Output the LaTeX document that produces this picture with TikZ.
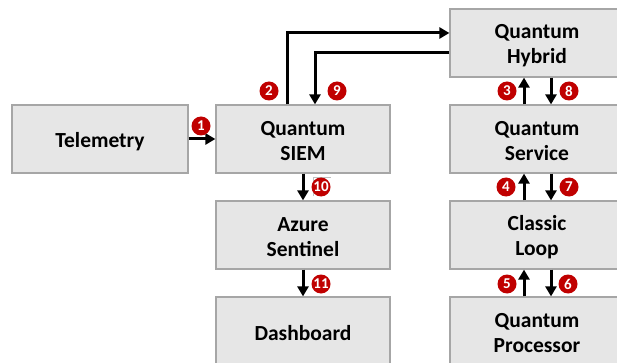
\documentclass[tikz,border=0pt]{standalone}
\usepackage{fontspec}
\setmainfont{Carlito}
\usetikzlibrary{arrows.meta}
\definecolor{boxfill}{HTML}{E6E6E6}
\definecolor{boxline}{HTML}{A6A6A6}
\definecolor{badge}{HTML}{C00000}
\tikzset{
  block/.style={draw=boxline, line width=1.2pt, fill=boxfill, minimum width=174pt,
    minimum height=68pt, inner sep=0pt},
  btext/.style={align=center, inner sep=0pt, yshift=-2.5pt,
    font=\fontsize{21.5}{25}\selectfont\bfseries},
  flow/.style={line width=3pt, -{Triangle[length=10pt,width=11pt]}},
  num/.style={circle, fill=badge, text=white, inner sep=0pt, minimum size=19pt,
    font=\fontsize{15}{15}\selectfont\bfseries}
}
\begin{document}
\begin{tikzpicture}[x=1pt,y=-1pt]
\useasboundingbox (0,0) rectangle (617,363);
\clip (0,0) rectangle (617,363);
\fill[white] (0,0) rectangle (617,363);

% boxes, each with its caption centred inside
\node[block, minimum width=176pt, label={[btext]center:Telemetry}] (tel) at (100,139) {};
\node[block, label={[btext]center:Quantum\\SIEM}] (siem) at (303,139) {};
\node[block, label={[btext]center:Azure\\Sentinel}] (sent) at (303,235) {};
\node[block, label={[btext]center:Dashboard}] (dash) at (303,331) {};
\node[block, label={[btext]center:Quantum\\Hybrid}] (hyb) at (537,43) {};
\node[block, label={[btext]center:Quantum\\Service}] (svc) at (537,139) {};
\node[block, label={[btext]center:Classic\\Loop}] (loop) at (537,235) {};
\node[block, label={[btext]center:Quantum\\Processor}] (proc) at (537,331) {};

% connector end points
\coordinate (s2) at ([xshift=-16pt]siem.north);
\coordinate (s9) at ([xshift=12pt]siem.north);
\coordinate (h2) at ([yshift=10pt]hyb.west);
\coordinate (h9) at ([yshift=-10pt]hyb.west);

% connectors
\draw[flow] (tel.east) -- (siem.west);
\draw[flow] (s2) |- (h2);
\draw[flow] (h9) -| (s9);
\draw[flow] (siem.south) -- (sent.north);
\draw[flow] (sent.south) -- (dash.north);
\draw[flow] ([xshift=-13pt]svc.north) -- ([xshift=-13pt]hyb.south);
\draw[flow] ([xshift=14pt]hyb.south) -- ([xshift=14pt]svc.north);
\draw[flow] ([xshift=-13pt]loop.north) -- ([xshift=-13pt]svc.south);
\draw[flow] ([xshift=14pt]svc.south) -- ([xshift=14pt]loop.north);
\draw[flow] ([xshift=-13pt]proc.north) -- ([xshift=-13pt]loop.south);
\draw[flow] ([xshift=14pt]loop.south) -- ([xshift=14pt]proc.north);

% thin frame around badge 10
\draw[gray!50, line width=0.6pt] (313,196) -- (313,177) -- (331,177);

% step badges
\node[num] (n1) at (201,126) {1};
\node[num] (n2) at (269,91) {2};
\node[num] (n9) at (337,91) {9};
\node[num] (n3) at (507,91) {3};
\node[num] (n8) at (569,91) {8};
\node[num] (n4) at (506,187) {4};
\node[num] (n7) at (569,187) {7};
\node[num] (n5) at (507,284) {5};
\node[num] (n6) at (568,284) {6};
\node[num] (n10) at (321,187) {10};
\node[num] (n11) at (321,284) {11};
\end{tikzpicture}
\end{document}
